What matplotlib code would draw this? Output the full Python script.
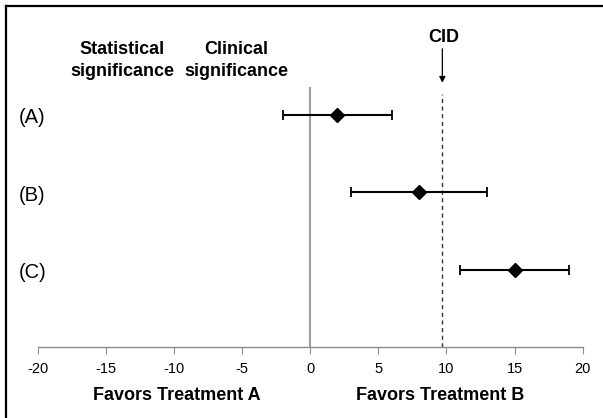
import matplotlib
matplotlib.use("Agg")
import matplotlib.pyplot as plt
from matplotlib.lines import Line2D

plt.rcParams['font.family'] = ['Liberation Sans', 'DejaVu Sans']

labels = ["(A)", "(B)", "(C)"]
ypos = [3, 2, 1]
estimates = [2, 8, 15]
lower = [-2, 3, 11]
upper = [6, 13, 19]
cid = 9.7
xticks = [-20, -15, -10, -5, 0, 5, 10, 15, 20]

W, H = 603, 418
fig = plt.figure(figsize=(W / 100, H / 100), dpi=100)
ax = fig.add_axes([0.0625, 0.1699, 0.9038, 0.806])
ax.set_xlim(-20, 20)
ax.set_ylim(0, 4.35)

for sp in ['top', 'right', 'left']:
    ax.spines[sp].set_visible(False)
ax.spines['bottom'].set_color('#8c8c8c')
ax.spines['bottom'].set_linewidth(1.0)
ax.set_yticks([])
ax.set_xticks(xticks)
ax.set_xticklabels([str(t) for t in xticks], fontsize=10.5)
ax.tick_params(axis='x', direction='out', length=5, color='#8c8c8c', pad=6)

# zero line and CID
ax.plot([0, 0], [0, 3.35], color='#a0a0a0', lw=1.5, zorder=1)
ax.plot([cid, cid], [0, 3.27], color='#333333', lw=1.0, ls=(0, (3, 2.5)), zorder=1)

for y, e, lo, hi in zip(ypos, estimates, lower, upper):
    ax.errorbar([e], [y], xerr=[[e - lo], [hi - e]], fmt='D', color='black',
                ms=7, lw=1.5, capsize=3.5, capthick=1.3, zorder=3)

for lab, y in zip(labels, ypos):
    ax.text(-20.4, y - 0.04, lab, fontsize=14.5, ha='center', va='center')

ax.annotate('', xy=(cid, 3.41), xytext=(cid, 3.85),
            arrowprops=dict(arrowstyle='-|>', color='black', lw=0.9,
                            mutation_scale=9, shrinkA=0, shrinkB=0))


def ftext(x, y, s, **kw):
    fig.text(x / W, 1 - y / H, s, ha='center', va='center', **kw)


ftext(444, 37, 'CID', fontsize=13, fontweight='bold')
ftext(122.5, 50, 'Statistical', fontsize=13, fontweight='bold')
ftext(122.5, 72, 'significance', fontsize=13, fontweight='bold')
ftext(236.7, 50, 'Clinical', fontsize=13, fontweight='bold')
ftext(236.7, 72, 'significance', fontsize=13, fontweight='bold')
ftext(177, 396, 'Favors Treatment A', fontsize=13, fontweight='bold')
ftext(440, 396, 'Favors Treatment B', fontsize=13, fontweight='bold')

# partial frame: top and left lines only
bx, by = 6 / W, 1 - 6 / H
fig.lines.append(Line2D([bx, bx], [0, by], transform=fig.transFigure, color='black', lw=1.6))
fig.lines.append(Line2D([bx, 1], [by, by], transform=fig.transFigure, color='black', lw=1.6))

fig.savefig('out.png', dpi=100)
